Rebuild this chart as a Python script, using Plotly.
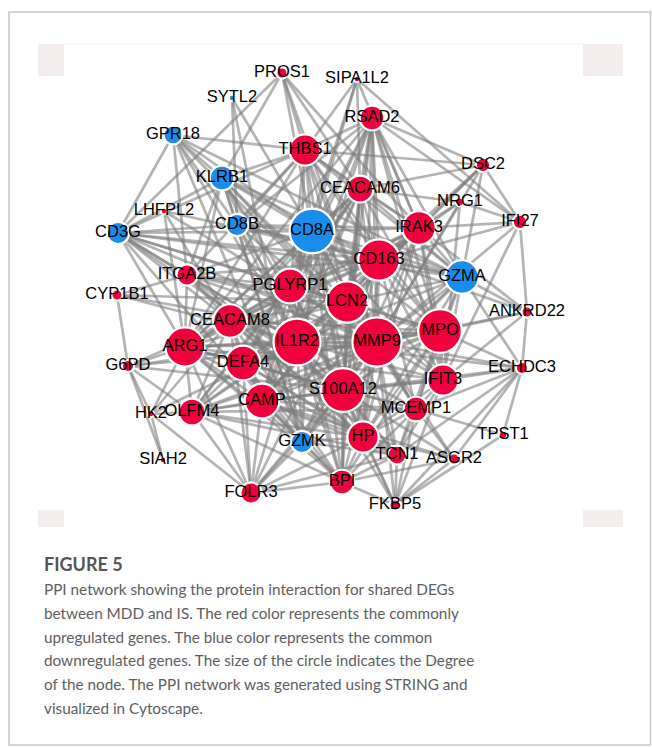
import itertools
import plotly.graph_objects as go

# ---- network data -------------------------------------------------------
genes = ["PROS1", "SIPA1L2", "SYTL2", "RSAD2", "GPR18", "THBS1", "DSC2", "KLRB1",
         "CEACAM6", "NRG1", "LHFPL2", "IFI27", "CD3G", "CD8B", "CD8A", "IRAK3",
         "CD163", "GZMA", "ITGA2B", "PGLYRP1", "CYP1B1", "LCN2", "ANKRD22", "CEACAM8",
         "MPO", "IL1R2", "MMP9", "ARG1", "DEFA4", "G6PD", "ECHDC3", "IFIT3",
         "S100A12", "CAMP", "MCEMP1", "OLFM4", "HK2", "GZMK", "HP", "TPST1",
         "TCN1", "ASGR2", "SIAH2", "BPI", "FOLR3", "FKBP5"]

# layout coordinates exported from the network view
node_x = [282, 357, 232, 372, 173, 305, 483, 222,
          360, 460, 164, 520, 118, 237, 312, 419,
          379, 462, 187, 290, 117, 347, 527, 230,
          440, 297, 377, 185, 243, 128, 522, 443,
          343, 262, 416, 192, 151, 302, 363, 503,
          397, 454, 163, 342, 251, 395]
node_y = [73, 79, 98, 118, 135, 150, 165, 178,
          189, 202, 211, 222, 233, 225, 231, 228,
          260, 277, 275, 286, 295, 302, 312, 321,
          331, 342, 342, 347, 363, 366, 368, 380,
          390, 401, 409, 412, 414, 442, 437, 435,
          455, 459, 460, 482, 493, 505]

regulation = ["up", "up", "down", "up", "down", "up", "up", "down",
              "up", "up", "up", "up", "down", "down", "down", "up",
              "up", "down", "up", "up", "up", "up", "up", "up",
              "up", "up", "up", "up", "up", "up", "up", "up",
              "up", "up", "up", "up", "up", "down", "up", "up",
              "up", "up", "up", "up", "up", "up"]

degree = [5, 1, 1, 17, 12, 23, 8, 17,
          19, 3, 1, 8, 15, 15, 35, 25,
          32, 25, 14, 26, 5, 32, 5, 25,
          34, 37, 39, 30, 26, 6, 6, 23,
          34, 26, 17, 19, 1, 15, 23, 3,
          12, 5, 1, 17, 14, 5]

# densely connected neutrophil-related module
core_module = ["MMP9", "IL1R2", "S100A12", "MPO", "LCN2", "CD163", "ARG1",
               "PGLYRP1", "DEFA4", "CAMP", "CEACAM8", "HP", "IRAK3"]

links = {
    "PROS1": ["THBS1", "CD3G", "KLRB1", "CD8A", "CEACAM6", "MMP9", "IRAK3"],
    "SIPA1L2": ["THBS1", "CD8A", "CEACAM6", "IRAK3", "IFI27", "PGLYRP1"],
    "SYTL2": ["CD8A", "GZMK", "CD8B"],
    "GPR18": ["CD3G", "KLRB1", "CD8B", "CD8A", "GZMA", "GZMK", "ITGA2B", "MMP9", "IL1R2"],
    "LHFPL2": ["ARG1", "MMP9", "CD163", "CEACAM8"],
    "CYP1B1": ["G6PD", "IL1R2", "LCN2", "MMP9", "ITGA2B"],
    "G6PD": ["HK2", "ARG1", "MMP9", "CEACAM8", "S100A12", "IL1R2"],
    "HK2": ["SIAH2", "ARG1", "IL1R2", "CEACAM8"],
    "SIAH2": ["G6PD"],
    "OLFM4": ["ARG1", "CEACAM8", "DEFA4", "CAMP", "LCN2", "MMP9", "IL1R2", "S100A12",
              "BPI", "FOLR3", "HP", "MPO", "CEACAM6", "PGLYRP1", "TCN1", "MCEMP1",
              "HK2", "G6PD"],
    "FOLR3": ["CAMP", "DEFA4", "ARG1", "BPI", "GZMK", "HP", "LCN2", "MMP9", "CEACAM8",
              "IL1R2", "S100A12", "TCN1", "HK2"],
    "BPI": ["CAMP", "DEFA4", "LCN2", "MMP9", "IL1R2", "S100A12", "HP", "MPO", "CEACAM8",
            "CEACAM6", "ARG1", "PGLYRP1", "GZMK", "TCN1", "FKBP5", "MCEMP1"],
    "FKBP5": ["HP", "S100A12", "MMP9", "MCEMP1", "ECHDC3", "ASGR2", "IL1R2", "TPST1",
              "TCN1", "IFIT3"],
    "ASGR2": ["HP", "MCEMP1", "S100A12", "ECHDC3", "BPI", "CAMP", "MMP9"],
    "TPST1": ["ECHDC3", "MCEMP1"],
    "ECHDC3": ["GZMA", "ANKRD22", "IFIT3", "MMP9", "MPO", "TCN1", "MCEMP1", "IL1R2",
               "S100A12"],
    "ANKRD22": ["IFI27", "IFIT3", "GZMA", "MPO", "CD163", "IRAK3", "MMP9"],
    "IFI27": ["DSC2", "RSAD2", "IFIT3", "IRAK3", "MMP9", "CD163", "NRG1"],
    "DSC2": ["THBS1", "CEACAM6", "IRAK3", "CD163", "MMP9", "RSAD2", "LCN2", "GZMA"],
    "NRG1": ["IRAK3", "CD163", "MMP9", "CEACAM6", "IFIT3"],
    "RSAD2": ["IFIT3", "CD8A", "CEACAM6", "IRAK3", "CD163", "LCN2", "MMP9", "MPO",
              "IL1R2", "S100A12", "GZMA", "THBS1", "PGLYRP1", "HP", "CAMP", "ARG1", "CD8B"],
    "THBS1": ["CD8A", "CEACAM6", "MMP9", "IL1R2", "LCN2", "KLRB1", "CD8B", "ITGA2B",
              "ARG1", "PGLYRP1", "CD163", "IRAK3", "GZMA", "CD3G", "GPR18", "S100A12", "MPO"],
    "KLRB1": ["CD3G", "CD8A", "CD8B", "GZMA", "GZMK", "ARG1", "MMP9", "IL1R2", "CD163",
              "ITGA2B", "S100A12", "LCN2", "PGLYRP1"],
    "CD3G": ["CD8A", "CD8B", "GZMA", "GZMK", "ARG1", "IL1R2", "MMP9", "PGLYRP1",
             "CEACAM8", "S100A12", "ITGA2B", "CD163", "LCN2"],
    "CD8B": ["CD8A", "GZMA", "GZMK", "MMP9", "IL1R2", "CD163", "IRAK3", "S100A12"],
    "CD8A": ["GZMA", "GZMK", "CD163", "MMP9", "IL1R2", "S100A12", "LCN2", "MPO", "ARG1",
             "IRAK3", "CEACAM6", "PGLYRP1", "HP", "IFIT3", "CAMP", "DEFA4", "CEACAM8",
             "BPI", "MCEMP1", "ITGA2B"],
    "GZMA": ["GZMK", "IFIT3", "MPO", "MMP9", "S100A12", "CD163", "IRAK3", "LCN2",
             "IL1R2", "HP", "MCEMP1", "CEACAM6"],
    "GZMK": ["MMP9", "IL1R2", "S100A12", "HP", "CAMP", "TCN1", "CD163", "ARG1", "DEFA4"],
    "CEACAM6": ["LCN2", "MMP9", "MPO", "CEACAM8", "DEFA4", "CAMP", "PGLYRP1", "S100A12",
                "IL1R2", "ARG1", "CD163", "IRAK3"],
    "ITGA2B": ["PGLYRP1", "IL1R2", "MMP9", "ARG1", "CEACAM8", "CD163", "LCN2", "S100A12",
               "MPO", "HP"],
    "IFIT3": ["MPO", "MMP9", "S100A12", "IRAK3", "CD163", "LCN2", "IL1R2", "MCEMP1",
              "HP", "TCN1", "CAMP", "ARG1"],
    "MCEMP1": ["S100A12", "MMP9", "MPO", "IL1R2", "HP", "LCN2", "CAMP", "ARG1", "TCN1",
               "CD163"],
    "TCN1": ["HP", "S100A12", "MMP9", "LCN2", "MPO", "CAMP", "DEFA4", "IL1R2", "CEACAM8"],
}

# ---- build edge set -----------------------------------------------------
edge_set = set()
for a, b in itertools.combinations(core_module, 2):
    edge_set.add(tuple(sorted((a, b))))
for a, nbrs in links.items():
    for b in nbrs:
        if a != b:
            edge_set.add(tuple(sorted((a, b))))

pos = {g: (x, y) for g, x, y in zip(genes, node_x, node_y)}
ex, ey = [], []
for a, b in sorted(edge_set):
    ex += [pos[a][0], pos[b][0], None]
    ey += [pos[a][1], pos[b][1], None]

colour_map = {"up": "#F0003C", "down": "#1A8CEB"}
node_colours = [colour_map[r] for r in regulation]
node_sizes = [5.5 + 1.12 * d for d in degree]

fig = go.Figure()

fig.add_trace(go.Scatter(
    x=ex, y=ey, mode="lines",
    line=dict(color="rgba(125,125,125,0.58)", width=2.7),
    hoverinfo="skip", showlegend=False))

fig.add_trace(go.Scatter(
    x=node_x, y=node_y, mode="markers",
    marker=dict(size=node_sizes, color=node_colours, opacity=1,
                line=dict(color="white", width=2.2)),
    text=genes, hoverinfo="text", showlegend=False))

fig.add_trace(go.Scatter(
    x=node_x, y=node_y, mode="text", text=genes,
    textposition="middle center",
    textfont=dict(family="Liberation Sans, Arial, sans-serif", size=16.5, color="#000000"),
    hoverinfo="skip", showlegend=False))

# ---- frame, corner blocks of the exported image ------------------------
shapes = [
    dict(type="rect", x0=9, y0=12, x1=650.5, y1=745,
         line=dict(color="#C8C8C8", width=1.5), fillcolor="rgba(0,0,0,0)", layer="below"),
    dict(type="line", x0=64, y0=44, x1=583, y1=44,
         line=dict(color="#F4F1F1", width=1), layer="below"),
]
for x0, y0, x1, y1 in [(38, 44, 64, 76), (583, 44, 623, 76),
                       (38, 510, 64, 527), (583, 510, 623, 527)]:
    shapes.append(dict(type="rect", x0=x0, y0=y0, x1=x1, y1=y1,
                       line=dict(width=0), fillcolor="#F3EDED", layer="below"))

caption_lines = [
    "PPI network showing the protein interaction for shared DEGs",
    "between MDD and IS. The red color represents the commonly",
    "upregulated genes. The blue color represents the common",
    "downregulated genes. The size of the circle indicates the Degree",
    "of the node. The PPI network was generated using STRING and",
    "visualized in Cytoscape.",
]
annotations = [dict(x=42, y=564, xref="x", yref="y", text="<b>FIGURE 5</b>",
                    showarrow=False, xanchor="left", yanchor="middle",
                    font=dict(family="Lato, sans-serif", size=18, color="#555555"))]
for i, line in enumerate(caption_lines):
    annotations.append(dict(x=42, y=589 + i * 23.8, xref="x", yref="y", text=line,
                            showarrow=False, xanchor="left", yanchor="middle",
                            font=dict(family="Lato, sans-serif", size=15.3, color="#5E5E5E")))

fig.update_layout(
    width=652, height=747, autosize=False,
    margin=dict(l=0, r=0, t=0, b=0),
    paper_bgcolor="white", plot_bgcolor="white",
    xaxis=dict(range=[0, 652], visible=False, fixedrange=True),
    yaxis=dict(range=[747, 0], visible=False, fixedrange=True),
    shapes=shapes, annotations=annotations,
)

fig.write_html("out.html")
